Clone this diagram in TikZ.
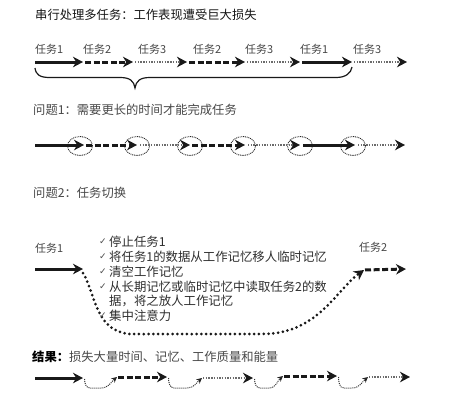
\documentclass[tikz,border=0pt]{standalone}
\usepackage{fontspec}
\setmainfont{Noto Sans CJK SC}
\newfontfamily\symfont{DejaVu Sans}
\usetikzlibrary{arrows.meta,shapes.geometric}

\tikzset{
  head/.style={-{Stealth[length=10pt,width=10.5pt,inset=3.2pt,color=black!90]}},
  solidseg/.style={head, line width=3pt, black!90},
  dashseg/.style={head, line width=3pt, black!90, dash pattern=on 6pt off 2.6pt},
  dotseg/.style={head, line width=2.6pt, black!58, dash pattern=on 1.4pt off 1.3pt},
  lab/.style={anchor=west, inner sep=0pt, font=\fontsize{11}{13}\selectfont, text=black!72},
  heading/.style={anchor=west, inner sep=0pt, font=\fontsize{12.3}{14}\selectfont, text=black!72},
  chk/.style={anchor=west, inner sep=0pt, font=\fontsize{12.4}{14}\selectfont, text=black!82},
  tick/.style={anchor=west, inner sep=0pt, font=\symfont\fontsize{9}{11}\selectfont, text=black!70},
  ring/.style={ellipse, draw=black!85, line width=0.9pt, dash pattern=on 0.9pt off 0.9pt,
               minimum width=25pt, minimum height=19pt, inner sep=0pt},
  bigdots/.style={-{Stealth[length=10pt,width=10.5pt,inset=3.2pt,color=black!90]},
                  line width=3pt, black!90, dash pattern=on 0pt off 4.8pt, line cap=round},
  dip/.style={-{Stealth[length=5.5pt,width=5.5pt,inset=1.6pt,color=black!85]},
              line width=1pt, black!80, dash pattern=on 1pt off 1pt},
  brace/.style={line width=1.2pt, black!90}
}

\begin{document}
\begin{tikzpicture}[x=1pt,y=-1pt]
\useasboundingbox (0,0) rectangle (468,408);

% ---------- serial processing ----------
\node[heading, text=black!92] (t1) at (35,15) {串行处理多任务：工作表现遭受巨大损失};

\coordinate (a0) at (35,62);
\coordinate (a1) at (83,62);
\coordinate (a2) at (133,62);
\coordinate (a3) at (187,62);
\coordinate (a4) at (245,62);
\coordinate (a5) at (300,62);
\coordinate (a6) at (352,62);
\coordinate (a7) at (407,62);

\draw[solidseg] (a0) -- (a1);
\draw[dashseg, shorten <=2pt] (a1) -- (a2);
\draw[dotseg, shorten <=2pt] (a2) -- (a3);
\draw[dashseg, shorten <=2pt] (a3) -- (a4);
\draw[dotseg, shorten <=2pt] (a4) -- (a5);
\draw[solidseg, shorten <=2pt] (a5) -- (a6);
\draw[dotseg, shorten <=2pt] (a6) -- (a7);

\node[lab] (l1) at (35,49) {任务1};
\node[lab] (l2) at (83,49) {任务2};
\node[lab] (l3) at (138,49) {任务3};
\node[lab] (l4) at (193,49) {任务2};
\node[lab] (l5) at (245,49) {任务3};
\node[lab] (l6) at (300,49) {任务1};
\node[lab] (l7) at (353,49) {任务3};

% brace under the first six segments
\coordinate (brL) at (35,68);
\coordinate (brM) at (135,88);
\coordinate (brR) at (352,67);
\draw[brace] (brL) .. controls (36,75) and (40,77.5) .. (50,77.5) -- (120,77.5)
  .. controls (130,77.5) and (134,81) .. (brM)
  .. controls (136,81) and (140,77.5) .. (150,77.5) -- (336,77.5)
  .. controls (346,77.5) and (351,73) .. (brR);

% ---------- problem 1 ----------
\node[heading] (t2) at (33,110) {问题1：需要更长的时间才能完成任务};

\coordinate (b0) at (35,145);
\coordinate (b1) at (84,145);
\coordinate (b2) at (137,145);
\coordinate (b3) at (190,145);
\coordinate (b4) at (245,145);
\coordinate (b5) at (300,145);
\coordinate (b6) at (355,145);
\coordinate (b7) at (405,145);

\node[ring] (e1) at (80,146) {};
\node[ring] (e2) at (137,146) {};
\node[ring] (e3) at (190,146) {};
\node[ring] (e4) at (243,146) {};
\node[ring] (e5) at (300,146) {};
\node[ring] (e6) at (353,146) {};

\draw[solidseg] (b0) -- (b1);
\draw[dashseg, shorten <=2pt] (b1) -- (b2);
\draw[dotseg, shorten <=3pt] (b2) -- (b3);
\draw[dashseg, shorten <=2pt] (b3) -- (b4);
\draw[dotseg, shorten <=3pt] (b4) -- (b5);
\draw[solidseg, shorten <=3pt] (b5) -- (b6);
\draw[dotseg, shorten <=3pt] (b6) -- (b7);

% ---------- problem 2 ----------
\node[heading] (t3) at (33,193) {问题2：任务切换};

\node[lab] (m1) at (35,248) {任务1};
\node[lab] (m2) at (359,247) {任务2};

\coordinate (c0) at (35,269);
\coordinate (c1) at (83,269);
\coordinate (c2) at (364,270);
\coordinate (c3) at (406,269);

\draw[solidseg] (c0) -- (c1);
\draw[bigdots] ([yshift=-4pt]c1) .. controls (96,295) and (95,331) .. (130,334) -- (262,334)
  .. controls (318,334) and (336,290) .. (c2);
\draw[dashseg, shorten <=1pt] (c2) -- (c3);

\node[tick] (k1) at (99,242) {✓};
\node[chk]  (s1) at (109,242) {停止任务1};
\node[tick] (k2) at (99,257) {✓};
\node[chk]  (s2) at (109,257) {将任务1的数据从工作记忆移人临时记忆};
\node[tick] (k3) at (99,272) {✓};
\node[chk]  (s3) at (109,272) {清空工作记忆};
\node[tick] (k4) at (99,287) {✓};
\node[chk]  (s4) at (109,287) {从长期记忆或临时记忆中读取任务2的数};
\node[chk]  (s5) at (109,301) {据，将之放人工作记忆};
\node[tick] (k6) at (99,316) {✓};
\node[chk]  (s6) at (109,316) {集中注意力};

% ---------- result ----------
\node[heading] (t4) at (32,357) {{\bfseries\color{black}结果：}损失大量时间、记忆、工作质量和能量};

\coordinate (d0) at (35,378);
\coordinate (d1) at (83,378);
\coordinate (d2) at (118,377);
\coordinate (d3) at (167,377);
\coordinate (d4) at (203,378);
\coordinate (d5) at (253,378);
\coordinate (d6) at (284,376);
\coordinate (d7) at (337,376);
\coordinate (d8) at (369,377);
\coordinate (d9) at (410,377);

\draw[solidseg] (d0) -- (d1);
\draw[dashseg] (d2) -- (d3);
\draw[dotseg] (d4) -- (d5);
\draw[dashseg] (d6) -- (d7);
\draw[dotseg] (d8) -- (d9);

% short detours between the tasks
\coordinate (p1a) at (90,388);  \coordinate (p1b) at (101,388);
\coordinate (p2a) at (174,388); \coordinate (p2b) at (187,388);
\coordinate (p3a) at (260,388); \coordinate (p3b) at (269,388);
\coordinate (p4a) at (344,388); \coordinate (p4b) at (352,388);

\draw[dip] ([xshift=1.5pt,yshift=-1pt]d1) to[out=-88,in=180] (p1a) -- (p1b) to[out=0,in=-140] ([xshift=-1pt]d2);
\draw[dip] ([xshift=1.5pt,yshift=-1pt]d3) to[out=-88,in=180] (p2a) -- (p2b) to[out=0,in=-140] ([xshift=-1pt]d4);
\draw[dip] ([xshift=1.5pt,yshift=-1pt]d5) to[out=-88,in=180] (p3a) -- (p3b) to[out=0,in=-140] ([xshift=-1pt]d6);
\draw[dip] ([xshift=1.5pt,yshift=-1pt]d7) to[out=-88,in=180] (p4a) -- (p4b) to[out=0,in=-140] ([xshift=-1pt]d8);

\end{tikzpicture}
\end{document}
